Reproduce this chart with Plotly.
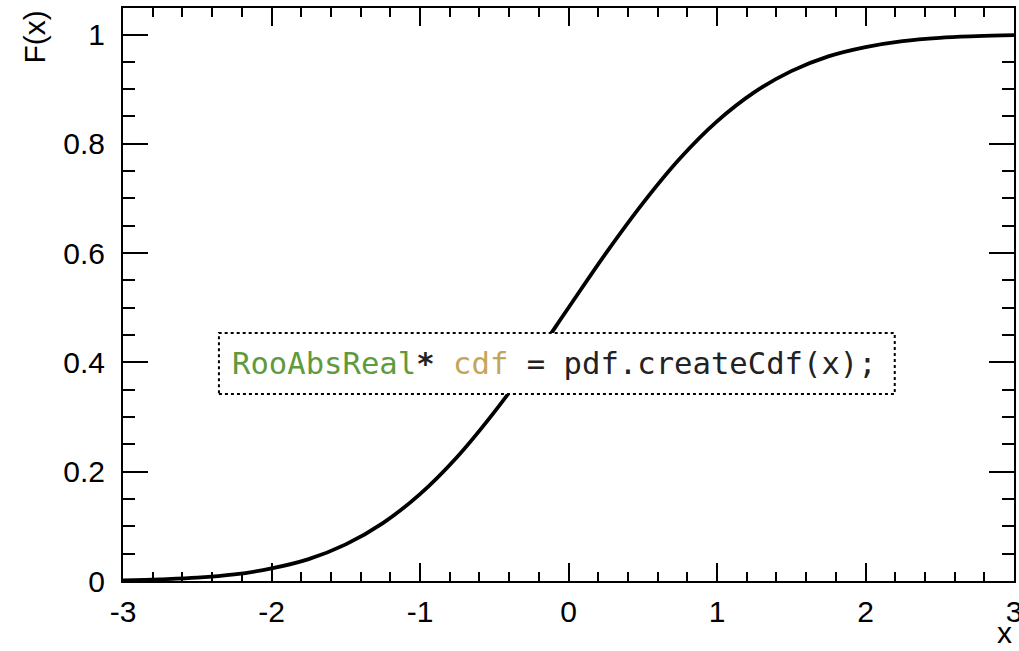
import plotly.graph_objects as go

# Cumulative distribution F(x) sampled along x
x_vals = [-3.0, -2.75, -2.5, -2.25, -2.0, -1.75, -1.5, -1.25, -1.0, -0.75, -0.5, -0.25,
          0.0, 0.25, 0.5, 0.75, 1.0, 1.25, 1.5, 1.75, 2.0, 2.25, 2.5, 2.75, 3.0]
cdf_vals = [0.001, 0.003, 0.006, 0.012, 0.023, 0.040, 0.067, 0.106, 0.159, 0.227, 0.309, 0.401,
            0.500, 0.599, 0.691, 0.773, 0.841, 0.894, 0.933, 0.960, 0.977, 0.988, 0.994, 0.997, 0.999]

# Axis ticks and labels
x_tickvals = [-3, -2, -1, 0, 1, 2, 3]
x_ticktext = ["-3", "-2", "-1", "0", "1", "2", "3"]
y_tickvals = [0, 0.2, 0.4, 0.6, 0.8, 1.0]
y_ticktext = ["0", "0.2", "0.4", "0.6", "0.8", "1"]

x_title = "x"
y_title = "F(x)"
code_text = ("<span style='color:#5f9a3c'>RooAbsReal</span><b>*</b> "
             "<span style='color:#c4a55a'>cdf</span> = pdf.createCdf(x);")

font_main = "Liberation Sans, Arial, Helvetica, sans-serif"

fig = go.Figure()
fig.add_trace(go.Scatter(
    x=x_vals, y=cdf_vals, mode="lines",
    line=dict(color="black", width=3.8, shape="spline", smoothing=1.0),
    showlegend=False, hoverinfo="skip",
))

axis_common = dict(
    showline=True, linecolor="black", linewidth=2,
    mirror="ticks", ticks="inside", tickcolor="black", tickwidth=1.5,
    showgrid=False, zeroline=False, automargin=False,
    ticklabeloverflow="allow",
    tickfont=dict(family=font_main, size=30, color="black"),
)

fig.update_xaxes(
    range=[-3, 3], tickmode="array", tickvals=x_tickvals, ticktext=x_ticktext,
    ticklen=18, ticklabelstandoff=3,
    minor=dict(dtick=0.2, tick0=-3, ticks="inside", ticklen=9, tickcolor="black", tickwidth=1.5),
    **axis_common,
)
fig.update_yaxes(
    range=[0, 1.0485], tickmode="array", tickvals=y_tickvals, ticktext=y_ticktext,
    ticklen=25, ticklabelstandoff=10,
    minor=dict(dtick=0.05, tick0=0, ticks="inside", ticklen=12, tickcolor="black", tickwidth=1.5),
    **axis_common,
)

# Dotted code box drawn over the curve
fig.add_shape(
    type="rect", xref="x", yref="y",
    x0=-2.354, x1=2.197, y0=0.342, y1=0.4538,
    line=dict(color="black", width=2, dash="dot"),
    fillcolor="white", layer="above",
)
fig.add_annotation(
    x=-0.095, y=0.398, xref="x", yref="y",
    text=code_text, showarrow=False,
    font=dict(family="DejaVu Sans Mono, monospace", size=30.6, color="#222222"),
    xanchor="center", yanchor="middle",
)

# Axis titles
fig.add_annotation(
    x=-0.0988, y=1.0, xref="paper", yref="paper",
    text=y_title, textangle=-90, showarrow=False,
    font=dict(family=font_main, size=30, color="black"),
    xanchor="center", yanchor="top",
)
fig.add_annotation(
    x=1.0, y=-0.1215, xref="paper", yref="paper",
    text=x_title, showarrow=False,
    font=dict(family=font_main, size=30, color="black"),
    xanchor="right", yanchor="bottom",
)

fig.update_layout(
    width=1019, height=651,
    margin=dict(l=123, r=5, t=8, b=70),
    paper_bgcolor="white", plot_bgcolor="white",
)

fig.write_html("out.html")
